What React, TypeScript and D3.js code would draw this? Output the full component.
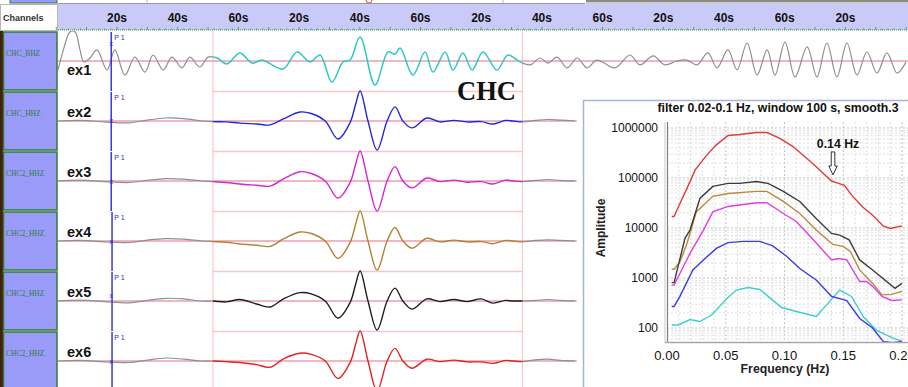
import React, { useEffect } from 'react';
import * as d3 from 'd3';

// ---------- seismogram data ----------
const timeTicks = [20, 40, 60, 80, 100, 120, 140, 160, 180, 200, 220, 240, 260];
const timeTickLabels = ['20s', '40s', '60s', '20s', '40s', '60s', '20s', '40s', '60s', '20s', '40s', '60s', '20s'];
const channels = ['CHC_BHZ', 'CHC_HHZ', 'CHC2_HHZ', 'CHC2_HHZ', 'CHC2_HHZ', 'CHC2_HHZ'];
const traceNames = ['ex1', 'ex2', 'ex3', 'ex4', 'ex5', 'ex6'];
const traceColors = ['#2ec8c8', '#2424e0', '#d424d4', '#b08232', '#1e1e1e', '#e02222'];
const windowStart = 51.6;
const windowEnd = 153.6;
const pickTime = 18.1;
const pickMarkerAmp = [0.6, 0.02, -0.03, 0, 0.17, 0];

const row1Time = [0.56, 2.5, 4.5, 6.2, 7.8, 9.1, 11.1, 13.4, 16.7, 19.3, 22.6, 25.9, 29.2, 31.9, 35.2, 38.1, 41.4, 44.0, 47.3, 50.0,
  53.0, 56.2, 60.5, 64.5, 67.8, 74.7, 79.3, 83.6, 86.9, 90.8, 94.5, 96.8, 100.1, 105.0, 109.3, 111.6, 113.3, 117.5, 121.5, 124.1,
  128.1, 130.7, 134.0, 137.0, 140.6, 145.2, 148.8, 152.8, 156.1, 159.4, 162.0, 165.0, 168.3, 171.6, 174.9, 178.1, 184.1, 189.0,
  192.3, 196.7, 200.5, 204.5, 207.8, 211.1, 214.7, 217.7, 221.3, 224.3, 227.6, 230.9, 234.2, 236.8, 240.1, 243.4, 247.4, 250.6,
  253.9, 257.2, 260.5, 263.8, 267.1, 270.4, 273.7, 277.0, 280.0];
const row1Amp = [-0.3, 0.43, 0.97, 0.97, 0.37, -0.03, 0.1, 0.37, -0.3, 0.37, -0.47, 0.13, -0.37, 0.2, -0.3, 0.13, -0.23, 0.13, -0.2, 0.13,
  0.1, -0.1, 0.27, -0.07, 0.03, -0.27, 0.3, -0.03, 0.2, -0.7, -0.03, 0.03, 0.8, -0.8, 0.3, 0.23, 0.43, -0.47, 0.3, -0.37,
  0.3, -0.3, 0.27, -0.3, 0.3, -0.3, 0.2, -0.03, -0.13, 0.1, -0.07, 0.13, -0.23, 0.1, -0.23, 0.03, -0.23, 0.2,
  -0.13, 0.17, -0.13, 0, 0.03, -0.13, 0.27, -0.23, 0.37, -0.3, 0.6, -0.47, 0.37, -0.47, 0.63, -0.53, 0.47, -0.53,
  0.6, -0.53, 0.6, -0.47, 0.3, -0.4, 0.27, -0.4, -0.03];

const waveTime = [0.5, 8, 16, 24, 30, 36, 42, 48, 51.6, 56, 60.5, 66, 70.4, 75, 80.3, 84, 88.6, 92.8, 96.8, 98.6, 100.1, 102.7, 105.7,
  109, 111.6, 114.2, 117.2, 122.1, 126.4, 131, 135.3, 140, 143.9, 148, 150.5, 153.4, 158, 162, 166, 171];
const ex2Amp = [0, 0.02, -0.03, -0.06, 0.03, 0.1, 0.08, 0, -0.02, -0.03, -0.07, -0.1, -0.13, 0.08, 0.3, 0.25, 0, -0.6, -0.05, 0.55, 1.0,
  0, -0.97, 0, 0.47, 0, -0.23, 0.1, -0.03, 0.02, -0.03, -0.02, -0.1, 0.02, 0, -0.03, 0.02, 0.05, 0.03, 0];
const ex3Amp = [0, 0.03, -0.02, -0.05, 0.02, 0.08, 0.06, 0, -0.02, -0.05, -0.1, -0.14, -0.17, 0.08, 0.31, 0.25, 0, -0.57, -0.05, 0.55, 1.0,
  0, -1.0, 0, 0.48, 0, -0.23, 0.1, -0.02, 0.03, -0.04, -0.02, -0.1, 0.03, 0, -0.02, 0.02, 0.05, 0.02, 0];
const ex4Amp = [0, 0.02, -0.03, -0.05, 0.03, 0.08, 0.06, 0, -0.02, -0.04, -0.1, -0.14, -0.18, 0.08, 0.3, 0.25, 0, -0.58, -0.05, 0.55, 1.0,
  0, -0.97, 0, 0.45, 0, -0.24, 0.09, -0.03, 0.03, -0.03, -0.02, -0.09, 0.02, 0, -0.03, 0.02, 0.04, 0.02, 0];
const ex5Amp = [0, 0.03, -0.02, -0.06, 0.02, 0.09, 0.07, 0, 0, -0.03, 0.05, -0.1, -0.2, 0.08, 0.28, 0.24, 0, -0.57, -0.05, 0.55, 1.0,
  0, -0.97, 0, 0.43, 0, -0.27, 0.07, -0.02, 0.05, -0.02, 0.07, -0.07, 0.02, 0, 0, 0.02, 0.05, 0.02, 0];
const ex6Amp = [0, 0.02, -0.03, -0.05, 0.03, 0.1, 0.06, 0, 0, -0.02, -0.05, -0.12, -0.21, 0.08, 0.26, 0.22, 0, -0.58, -0.05, 0.55, 1.0,
  0, -1.0, 0, 0.42, 0, -0.24, 0.06, -0.02, 0.03, -0.03, -0.03, -0.08, 0.02, 0, -0.02, 0.04, 0.06, 0.02, 0];

// ---------- spectra data ----------
const spTitle = 'filter 0.02-0.1 Hz, window 100 s, smooth.3';
const freqTicks = [0, 0.05, 0.1, 0.15, 0.2];
const ampTicks = [100, 1000, 10000, 100000, 1000000];

const redF = [0.004, 0.006, 0.011, 0.017, 0.024, 0.034, 0.042, 0.052, 0.062, 0.076, 0.085, 0.096, 0.107, 0.124, 0.140, 0.144, 0.151, 0.157, 0.166, 0.175, 0.184, 0.190, 0.200];
const redA = [17000, 17000, 31000, 62000, 145000, 290000, 460000, 710000, 740000, 810000, 810000, 620000, 430000, 195000, 87000, 81000, 71000, 46000, 27000, 18000, 11000, 9800, 11000];
const blackF = [0.004, 0.006, 0.0153, 0.0196, 0.028, 0.039, 0.052, 0.062, 0.076, 0.086, 0.099, 0.113, 0.127, 0.140, 0.147, 0.155, 0.164, 0.175, 0.194, 0.200];
const blackA = [810, 810, 6200, 9100, 39000, 68000, 78000, 78000, 85000, 78000, 54000, 34000, 15500, 7800, 7200, 5800, 2300, 1450, 620, 780];
const brownF = [0.004, 0.006, 0.011, 0.017, 0.025, 0.039, 0.052, 0.076, 0.085, 0.099, 0.113, 0.127, 0.141, 0.150, 0.156, 0.164, 0.175, 0.183, 0.191, 0.200];
const brownA = [1500, 1500, 2100, 4900, 21000, 43000, 49000, 54000, 54000, 34000, 19500, 9100, 4700, 4300, 3400, 1450, 780, 460, 470, 540];
const magentaF = [0.004, 0.006, 0.011, 0.0196, 0.031, 0.039, 0.052, 0.076, 0.085, 0.099, 0.110, 0.124, 0.140, 0.146, 0.153, 0.164, 0.170, 0.175, 0.183, 0.191, 0.200];
const magentaA = [720, 720, 1230, 3100, 9100, 21000, 27000, 32000, 32000, 19500, 13500, 6000, 2300, 2450, 2300, 850, 850, 680, 430, 355, 365];
const blueF = [0.004, 0.006, 0.011, 0.022, 0.031, 0.042, 0.052, 0.065, 0.079, 0.090, 0.102, 0.113, 0.127, 0.140, 0.153, 0.164, 0.175, 0.184, 0.192, 0.200];
const blueA = [270, 270, 430, 1450, 2300, 3900, 5100, 5400, 5400, 4400, 2700, 1550, 910, 430, 355, 155, 100, 54, 51, 54];
const cyanF = [0.004, 0.0096, 0.0196, 0.028, 0.038, 0.051, 0.059, 0.069, 0.079, 0.0975, 0.110, 0.127, 0.147, 0.157, 0.167, 0.178, 0.191, 0.200];
const cyanA = [115, 115, 148, 135, 182, 390, 575, 645, 590, 257, 214, 170, 575, 427, 170, 91, 65, 54];
const annotFreq = 0.1413;
const annotAmp = 115000;

const SANS = '"Liberation Sans", Arial, sans-serif';
const SERIF = '"Liberation Serif", "Times New Roman", serif';

export default function App() {
  useEffect(() => {
    document.body.style.margin = '0';
  }, []);

  const W = 908, H = 387;
  const tx = d3.scaleLinear().domain([0, 280]).range([56.3, 906.1]);
  const amp = d3.scaleLinear().domain([-1, 1]).range([30, -30]);
  const rowTop = (i: number) => 31 + 60 * i;
  const baseY = (i: number) => rowTop(i) + 30;

  const traceLine = (i: number) =>
    d3.line<[number, number]>()
      .x(d => tx(d[0]))
      .y(d => baseY(i) + amp(d[1]))
      .curve(d3.curveCatmullRom.alpha(0.5));

  const traces: { t: number[]; a: number[] }[] = [
    { t: row1Time, a: row1Amp },
    { t: waveTime, a: ex2Amp },
    { t: waveTime, a: ex3Amp },
    { t: waveTime, a: ex4Amp },
    { t: waveTime, a: ex5Amp },
    { t: waveTime, a: ex6Amp },
  ];

  const xw0 = tx(windowStart), xw1 = tx(windowEnd);

  // inset
  const fx = d3.scaleLinear().domain([0, 0.2]).range([667, 902]);
  const fy = d3.scaleLog().domain([52.5, 1.318e6]).range([342, 122]);
  const spLine = d3.line<[number, number]>().x(d => fx(d[0])).y(d => fy(d[1]));
  const spectra = [
    { f: cyanF, a: cyanA, c: '#3ccfd0' },
    { f: blueF, a: blueA, c: '#3a3aec' },
    { f: magentaF, a: magentaA, c: '#e03ee0' },
    { f: brownF, a: brownA, c: '#b88a3c' },
    { f: blackF, a: blackA, c: '#3c3c3c' },
    { f: redF, a: redA, c: '#e23a3a' },
  ];

  const minorF = d3.range(1, 21).map(k => k * 0.01);
  const logGrid: number[] = [];
  for (let e = 1; e <= 6; e++) {
    for (let m = 1; m <= 9; m++) {
      const v = m * Math.pow(10, e);
      if (v >= 52.5 && v <= 1.318e6) logGrid.push(v);
    }
  }

  const ax = fx(annotFreq), ay = fy(annotAmp);

  // header ruler ticks
  const rulerTicks = d3.range(0, 281, 2);

  return (
    <svg width={W} height={H} style={{ position: 'absolute', left: 0, top: 0, display: 'block', background: '#fff' }}>
      <defs>
        <clipPath id="inWin"><rect x={xw0} y={0} width={xw1 - xw0} height={H} /></clipPath>
        <clipPath id="outWin">
          <rect x={0} y={0} width={xw0} height={H} />
          <rect x={xw1} y={0} width={W - xw1} height={H} />
        </clipPath>
        <clipPath id="traceArea"><rect x={58} y={31} width={W - 58} height={H - 31} /></clipPath>
        <clipPath id="plotArea"><rect x={667} y={122} width={W - 667} height={220} /></clipPath>
      </defs>

      {/* top strip */}
      <rect x={0} y={0} width={W} height={4} fill="#fff" />
      <rect x={10} y={-2} width={47} height={5} fill="#9999ff" stroke="#2e7d32" strokeWidth={1} />
      <line x1={58} x2={585} y1={3.5} y2={3.5} stroke="#9a9a9a" strokeWidth={1} />
      <line x1={147} x2={147} y1={0} y2={3} stroke="#f0a0a0" />
      <line x1={503} x2={503} y1={0} y2={3} stroke="#f0a0a0" />
      <path d="M366,0 A3,3 0 0 0 372,0" fill="none" stroke="#e05050" />
      <rect x={586} y={0} width={W - 586} height={2.5} fill="#8a8a8a" />
      <rect x={586} y={2.5} width={W - 586} height={1.5} fill="#cfcfcf" />

      {/* header */}
      <rect x={58} y={4} width={W - 58} height={26} fill="#cacaf8" />
      <rect x={0.5} y={4.5} width={57} height={26} fill="#fff" stroke="#b8b8b8" />
      <text x={3} y={21} fontFamily={SANS} fontWeight="bold" fontSize={9} fill="#333">Channels</text>
      {timeTicks.map((t, i) => (
        <text key={i} x={tx(t)} y={22} textAnchor="middle" fontFamily={SANS} fontWeight="bold" fontSize={12} fill="#111">
          {timeTickLabels[i]}
        </text>
      ))}
      <line x1={58} x2={W} y1={30} y2={30} stroke="#2e9a2e" strokeWidth={1} strokeDasharray="1 1" />
      {rulerTicks.map((t, i) => (
        <line key={i} x1={tx(t)} x2={tx(t)} y1={30} y2={t % 10 === 0 ? 27 : 28.5} stroke="#2e9a2e" strokeWidth={0.8} />
      ))}

      {/* left brown bar */}
      <rect x={0} y={31} width={3} height={H - 31} fill="#4a1e0e" />

      {/* channel boxes */}
      {channels.map((c, i) => (
        <g key={i}>
          <rect x={3.5} y={rowTop(i) + 1} width={53.5} height={58} fill="#9a9af8" stroke="#2e7d32" strokeWidth={1.5} />
          <text x={6} y={rowTop(i) + 24.5} fontFamily={SERIF} fontSize={7.5} fill="#2f7f3f">{c}</text>
        </g>
      ))}

      {/* window box (pink) */}
      {channels.slice(1).map((_, k) => (
        <line key={k} x1={xw0} x2={xw1} y1={rowTop(k + 1) + 0.5} y2={rowTop(k + 1) + 0.5} stroke="#f8c8c8" strokeWidth={1.5} />
      ))}
      <line x1={xw0} x2={xw0} y1={31} y2={H} stroke="#f8c8c8" strokeWidth={1.2} />
      <line x1={xw1} x2={xw1} y1={31} y2={H} stroke="#f8c8c8" strokeWidth={1.2} />

      {/* baselines */}
      {channels.map((_, i) => (
        <line key={i} x1={58} x2={i === 0 ? W : tx(171.5)} y1={baseY(i)} y2={baseY(i)} stroke="#e8a0a8" strokeWidth={1.5} />
      ))}

      {/* traces */}
      <g clipPath="url(#traceArea)">
        {traces.map((tr, i) => {
          const pts = tr.t.map((t, k) => [t, tr.a[k]] as [number, number]);
          const d = traceLine(i)(pts) || '';
          return (
            <g key={i}>
              <path d={d} fill="none" stroke="#8e8e8e" strokeWidth={1.2} clipPath="url(#outWin)" />
              <path d={d} fill="none" stroke={traceColors[i]} strokeWidth={i === 0 ? 1.5 : 1.4} clipPath="url(#inWin)" />
            </g>
          );
        })}
      </g>

      {/* trace names */}
      {traceNames.map((n, i) => (
        <text key={i} x={67} y={i === 0 ? rowTop(0) + 44 : rowTop(i) + 25.5} fontFamily={SANS} fontWeight="bold" fontSize={14.5} fill="#111">{n}</text>
      ))}

      {/* P1 pick */}
      {channels.map((_, i) => (
        <g key={i}>
          <line x1={tx(pickTime) + (i > 2 ? 0.8 : 0)} x2={tx(pickTime) + (i > 2 ? 0.8 : 0)} y1={rowTop(i) + 1} y2={rowTop(i) + 60} stroke="#2a2ae0" strokeWidth={1.4} />
          <text x={tx(pickTime) + 3} y={rowTop(i) + 9} fontFamily={SANS} fontSize={7} fill="#2a2ae0">P 1</text>
          <text x={tx(pickTime)} y={baseY(i) + amp(pickMarkerAmp[i]) + 2.5} textAnchor="middle" fontFamily={SANS} fontSize={7} fill="#2a2ae0">x</text>
        </g>
      ))}

      {/* CHC label */}
      <text x={457} y={100} fontFamily={SERIF} fontWeight="bold" fontSize={26.5} fill="#111">CHC</text>

      {/* ---------- inset spectrum ---------- */}
      <rect x={583.5} y={100.5} width={340} height={300} fill="#fff" stroke="#a6b4dc" strokeWidth={1.5} />
      <text x={778} y={112} textAnchor="middle" fontFamily={SANS} fontWeight="bold" fontSize={12.3} fill="#111">{spTitle}</text>

      <g clipPath="url(#plotArea)">
        {minorF.map((f, i) => (
          <line key={'v' + i} x1={fx(f)} x2={fx(f)} y1={122} y2={342}
            stroke={Math.abs((f * 100) % 5) < 1e-6 ? '#c4c4c4' : '#dedede'} strokeWidth={1} strokeDasharray="2 2" />
        ))}
        {logGrid.map((v, i) => {
          const major = Math.abs(Math.log10(v) - Math.round(Math.log10(v))) < 1e-9;
          return (
            <line key={'h' + i} x1={667} x2={W} y1={fy(v)} y2={fy(v)}
              stroke={major ? '#c4c4c4' : '#dedede'} strokeWidth={1} strokeDasharray="2 2" />
          );
        })}
        {spectra.map((s, i) => (
          <path key={i} d={spLine(s.f.map((f, k) => [f, s.a[k]] as [number, number])) || ''} fill="none" stroke={s.c} strokeWidth={1.4} />
        ))}
      </g>

      {/* axes */}
      <line x1={665} x2={665} y1={122} y2={343} stroke="#c8c8c8" strokeWidth={1} />
      <line x1={667.5} x2={667.5} y1={122} y2={343} stroke="#808080" strokeWidth={1.2} />
      <line x1={665} x2={W} y1={342.5} y2={342.5} stroke="#a8a8a8" strokeWidth={1.5} />
      {ampTicks.map((v, i) => (
        <text key={i} x={658} y={fy(v) + 4.3} textAnchor="end" fontFamily={SANS} fontSize={12} fill="#111">{String(v)}</text>
      ))}
      {freqTicks.map((f, i) => (
        <text key={i} x={fx(f)} y={360} textAnchor="middle" fontFamily={SANS} fontSize={13} fill="#111">{f.toFixed(2)}</text>
      ))}
      <text transform="translate(605,228) rotate(-90)" textAnchor="middle" fontFamily={SANS} fontWeight="bold" fontSize={12} fill="#222">Amplitude</text>
      <text x={785} y={373} textAnchor="middle" fontFamily={SANS} fontWeight="bold" fontSize={12.3} fill="#222">Frequency (Hz)</text>

      {/* annotation */}
      <text x={ax + 5} y={ay - 27} textAnchor="middle" fontFamily={SANS} fontWeight="bold" fontSize={12.3} fill="#111">0.14 Hz</text>
      <path d={`M${ax - 1.8},${ay - 23} L${ax + 1.8},${ay - 23} L${ax + 1.8},${ay - 9} L${ax + 4.2},${ay - 9} L${ax},${ay} L${ax - 4.2},${ay - 9} L${ax - 1.8},${ay - 9} Z`}
        fill="#fff" stroke="#333" strokeWidth={1} />
    </svg>
  );
}
